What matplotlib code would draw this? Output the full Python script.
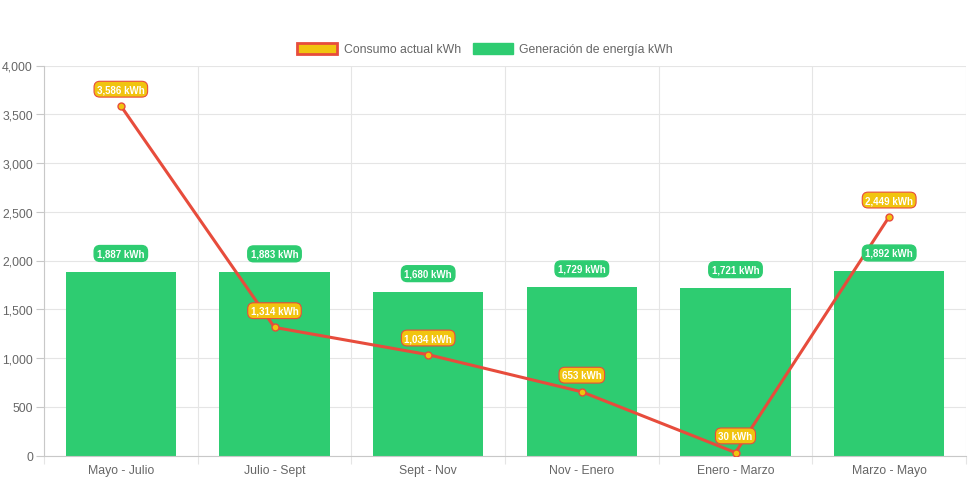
import matplotlib.pyplot as plt
from matplotlib.patches import Patch

periodos = ['Mayo - Julio', 'Julio - Sept', 'Sept - Nov', 'Nov - Enero', 'Enero - Marzo', 'Marzo - Mayo']
consumo = [3586, 1314, 1034, 653, 30, 2449]
generacion = [1887, 1883, 1680, 1729, 1721, 1892]
y_ticks = [0, 500, 1000, 1500, 2000, 2500, 3000, 3500, 4000]

verde = '#2ECC71'
rojo = '#E74C3C'
amarillo = '#F1C40F'
gris = '#666666'

plt.rcParams['font.family'] = ['Liberation Sans', 'DejaVu Sans']

fig = plt.figure(figsize=(9.71, 4.85), dpi=100)
ax = fig.add_axes([44 / 971, 28.5 / 485, 922 / 971, 390 / 485])

x = list(range(len(periodos)))
ax.bar(x, generacion, width=0.72, color=verde, zorder=2)
ax.plot(x, consumo, color=rojo, lw=2.2, zorder=3,
        marker='o', markersize=5, markerfacecolor=amarillo, markeredgecolor=rojo, markeredgewidth=1)

# etiquetas de valores
for i, v in enumerate(generacion):
    ax.annotate(f'{v:,} kWh', (i, v), xytext=(0, 13), textcoords='offset points',
                ha='center', va='center', fontsize=7, fontweight='bold', color='white', zorder=4,
                bbox=dict(boxstyle='round,pad=0.3,rounding_size=0.6', fc=verde, ec=verde, lw=1))
for i, v in enumerate(consumo):
    ax.annotate(f'{v:,} kWh', (i, v), xytext=(0, 12), textcoords='offset points',
                ha='center', va='center', fontsize=7, fontweight='bold', color='white', zorder=5,
                bbox=dict(boxstyle='round,pad=0.3,rounding_size=0.6', fc=amarillo, ec=rojo, lw=0.8))

ax.set_xlim(-0.5, len(periodos) - 0.5)
ax.set_ylim(0, 4000)
ax.set_yticks(y_ticks)
ax.set_yticklabels([f'{t:,}' for t in y_ticks])
ax.set_xticks(x)
ax.set_xticklabels(periodos)
ax.set_xticks([i - 0.5 for i in range(len(periodos) + 1)], minor=True)

ax.tick_params(axis='y', colors='#c8c8c8', labelcolor=gris, labelsize=8.8, length=6, width=0.8, pad=2)
ax.tick_params(axis='x', which='major', length=0, labelcolor=gris, labelsize=8.8, pad=6)
ax.tick_params(axis='x', which='minor', length=6, width=0.8, color='#e5e5e5')

ax.grid(axis='y', color='#e5e5e5', lw=0.8, zorder=0)
ax.grid(axis='x', which='minor', color='#e5e5e5', lw=0.8, zorder=0)
ax.set_axisbelow(True)
for s in ['top', 'right']:
    ax.spines[s].set_visible(False)
ax.spines['left'].set_color('#c8c8c8')
ax.spines['bottom'].set_color('#c8c8c8')

handles = [Patch(facecolor=amarillo, edgecolor=rojo, linewidth=2, label='Consumo actual kWh'),
           Patch(facecolor=verde, edgecolor=verde, label='Generación de energía kWh')]
fig.legend(handles=handles, loc='center', bbox_to_anchor=(485 / 971, 1 - 50 / 485), ncol=2,
           frameon=False, fontsize=8.8, labelcolor=gris, handlelength=3.3, handleheight=1.0,
           handletextpad=0.5, columnspacing=1.0)

fig.savefig('out.png', dpi=100)
